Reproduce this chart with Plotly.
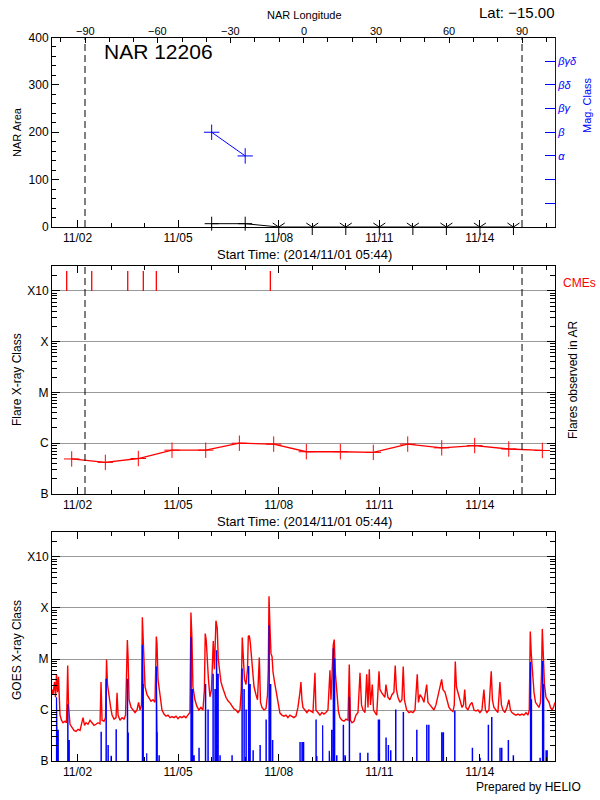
import numpy as np
import pandas as pd
import plotly.graph_objects as go

# ---------------- data ----------------
start_time = '2014-11-01 05:44'
end_time = '2014-11-16 05:44'
limb_times = ['2014-11-02 05:21', '2014-11-15 06:08']   # AR at -90 / +90 longitude
limb_lons = [-90, 90]
latitude_text = 'Lat: \u221215.00'
nar_title = 'NAR 12206'

# NAR area (black) and magnetic class (blue)
nar_dates = ['2014-11-06', '2014-11-07', '2014-11-08', '2014-11-09', '2014-11-10',
             '2014-11-11', '2014-11-12', '2014-11-13', '2014-11-14', '2014-11-15']
nar_area = [7, 7, 0, 0, 0, 0, 0, 0, 0, 0]
mag_dates = ['2014-11-06', '2014-11-07']
mag_class = ['β', 'α']
mag_labels = ['', '', 'α', 'β', 'βγ', 'βδ', 'βγδ']
lon_ticks = [-90, -60, -30, 0, 30, 60, 90]
lon_tick_text = ['\u221290', '\u221260', '\u221230', '0', '30', '60', '90']
area_ticks = [0, 100, 200, 300, 400]

# flares observed in AR
flare_times = ['2014-11-01 19:50', '2014-11-02 19:54', '2014-11-03 19:30', '2014-11-04 19:38',
               '2014-11-05 19:45', '2014-11-06 19:50', '2014-11-07 20:24', '2014-11-08 19:45',
               '2014-11-09 20:06', '2014-11-10 19:42', '2014-11-11 20:20', '2014-11-12 20:40',
               '2014-11-13 20:15', '2014-11-14 20:38', '2014-11-15 20:40']
flare_flux = [4.9e-7, 4.2e-7, 5.0e-7, 7.3e-7, 7.3e-7, 1.0e-6, 9.6e-7, 6.8e-7,
              6.8e-7, 6.6e-7, 9.6e-7, 8.1e-7, 9.0e-7, 7.7e-7, 7.2e-7]
cme_times = ['2014-11-01 16:15', '2014-11-02 10:10', '2014-11-03 11:56',
             '2014-11-03 23:05', '2014-11-04 08:24', '2014-11-07 18:00']

class_vals = [1e-7, 1e-6, 1e-5, 1e-4, 1e-3]
class_text = ['B', 'C', 'M', 'X', 'X10']

# GOES long channel (day of November, log10 flux)
goes_long_day = [
    1.239, 1.269, 1.314, 1.343, 1.373, 1.403, 1.433, 1.478, 1.522, 1.567, 1.627, 1.671, 1.707, 1.731, 1.776, 1.836, 1.895, 1.955,
    2.015, 2.075, 2.119, 2.164, 2.209, 2.253, 2.313, 2.373, 2.432, 2.492, 2.552, 2.611, 2.671, 2.701, 2.731, 2.790, 2.835, 2.865, 2.894, 2.939, 2.984,
    3.030, 3.089, 3.149, 3.179, 3.209, 3.268, 3.328, 3.388, 3.432, 3.486, 3.507, 3.537, 3.596, 3.656, 3.716, 3.775, 3.820, 3.865, 3.909, 3.933, 3.963,
    4.013, 4.072, 4.132, 4.191, 4.251, 4.311, 4.350, 4.370, 4.400, 4.460, 4.519, 4.579, 4.639, 4.698, 4.758, 4.817, 4.877, 4.937, 4.996,
    5.054, 5.113, 5.173, 5.233, 5.292, 5.352, 5.382, 5.412, 5.441, 5.501, 5.561, 5.620, 5.680, 5.740, 5.784, 5.808, 5.838, 5.868, 5.904, 5.949, 5.994,
    6.048, 6.083, 6.128, 6.167, 6.197, 6.233, 6.277, 6.322, 6.367, 6.426, 6.486, 6.546, 6.605, 6.665, 6.725, 6.784, 6.844, 6.883, 6.913, 6.943, 6.979,
    7.024, 7.069, 7.093, 7.123, 7.152, 7.182, 7.218, 7.263, 7.322, 7.367, 7.421, 7.457, 7.501, 7.561, 7.621, 7.665, 7.689, 7.710, 7.740, 7.770, 7.800, 7.829, 7.874, 7.919, 7.979,
    8.036, 8.095, 8.155, 8.215, 8.274, 8.334, 8.394, 8.453, 8.513, 8.573, 8.632, 8.662, 8.692, 8.722, 8.781, 8.841, 8.901, 8.960,
    9.021, 9.080, 9.110, 9.170, 9.229, 9.289, 9.349, 9.408, 9.468, 9.528, 9.558, 9.626, 9.656, 9.692, 9.737, 9.781, 9.826, 9.886, 9.946,
    10.005, 10.066, 10.104, 10.140, 10.185, 10.245, 10.304, 10.364, 10.424, 10.469, 10.513, 10.573, 10.624, 10.662, 10.701, 10.737, 10.791, 10.827, 10.871, 10.922, 10.991,
    11.018, 11.069, 11.107, 11.167, 11.197, 11.256, 11.316, 11.376, 11.435, 11.474, 11.510, 11.555, 11.614, 11.674, 11.713, 11.749, 11.814, 11.883, 11.943,
    12.003, 12.063, 12.131, 12.167, 12.212, 12.271, 12.331, 12.412, 12.450, 12.510, 12.570, 12.629, 12.689, 12.749, 12.808, 12.859, 12.898, 12.957,
    13.018, 13.077, 13.137, 13.197, 13.235, 13.265, 13.301, 13.346, 13.405, 13.465, 13.510, 13.546, 13.584, 13.644, 13.704, 13.763, 13.823, 13.883, 13.942,
    14.000, 14.060, 14.119, 14.164, 14.209, 14.268, 14.337, 14.373, 14.418, 14.477, 14.537, 14.596, 14.641, 14.686, 14.745, 14.805, 14.865, 14.910, 14.954,
    15.015, 15.075, 15.134, 15.194, 15.254, 15.313, 15.373, 15.433, 15.472, 15.501, 15.531, 15.567, 15.612, 15.657, 15.701, 15.761, 15.806, 15.836, 15.860, 15.889, 15.925, 15.970,
    16.015, 16.060, 16.104, 16.149, 16.194, 16.239]
goes_long_log10 = [
    -5.60, -5.70, -5.45, -5.75, -5.30, -5.65, -5.35, -6.10, -6.20, -6.25, -6.22, -6.25, -5.13, -5.90, -6.28, -6.35, -6.40, -6.42,
    -6.38, -6.40, -6.30, -6.15, -6.30, -6.25, -6.28, -6.20, -6.25, -6.30, -6.28, -6.25, -6.27, -5.45, -6.20, -6.22, -6.15, -5.01, -5.50, -5.75, -5.93,
    -6.10, -6.18, -6.15, -5.66, -6.10, -6.20, -6.15, -6.18, -6.10, -4.63, -4.95, -5.80, -5.95, -6.00, -6.05, -6.00, -5.85, -6.00, -5.90, -4.18, -4.70,
    -5.54, -5.70, -5.78, -5.83, -5.80, -5.85, -4.56, -4.70, -5.40, -5.66, -6.00, -6.08, -6.12, -6.10, -6.15, -6.13, -6.15, -6.12, -6.17,
    -6.13, -6.15, -6.12, -6.15, -6.10, -6.05, -4.09, -4.60, -5.54, -5.80, -5.93, -6.00, -5.95, -6.00, -5.60, -4.50, -4.63, -5.10, -5.40, -5.74, -5.60,
    -4.65, -5.20, -4.25, -4.40, -5.00, -5.25, -5.45, -5.55, -5.65, -5.75, -5.82, -5.86, -5.92, -5.98, -6.00, -6.05, -6.00, -5.60, -4.58, -4.95, -5.40,
    -5.50, -5.20, -4.56, -4.54, -4.68, -4.90, -5.25, -5.54, -5.70, -5.80, -4.97, -5.85, -5.95, -6.00, -5.97, -5.70, -5.20, -3.77, -4.40, -4.90, -4.95, -5.25, -5.45, -5.60, -5.86,
    -6.06, -6.10, -6.12, -6.10, -6.15, -6.10, -6.12, -6.15, -6.12, -5.95, -5.66, -5.45, -5.80, -5.95, -6.00, -6.05, -6.00, -6.03,
    -6.05, -5.27, -6.00, -6.05, -6.10, -6.05, -6.08, -6.05, -6.00, -5.22, -5.80, -4.72, -4.62, -5.30, -5.60, -6.03, -6.15, -6.20, -6.22,
    -6.18, -6.20, -5.11, -6.20, -6.25, -6.22, -6.10, -6.05, -5.27, -5.90, -6.00, -6.05, -5.30, -5.95, -5.20, -5.90, -5.50, -6.00, -6.05, -6.10, -5.24,
    -5.60, -5.66, -5.70, -5.75, -5.50, -5.75, -5.80, -5.70, -5.65, -5.13, -5.60, -5.75, -5.85, -5.80, -5.15, -5.80, -6.00, -6.05, -6.03,
    -6.05, -6.00, -5.30, -5.85, -5.70, -5.75, -5.85, -5.50, -5.85, -5.90, -5.95, -6.00, -5.90, -5.70, -5.55, -5.40, -5.60, -5.65,
    -5.80, -5.95, -6.00, -6.03, -5.90, -5.05, -5.55, -5.65, -5.80, -5.95, -5.90, -5.60, -5.95, -6.00, -5.90, -5.85, -6.00, -6.02, -6.00,
    -6.05, -6.00, -5.60, -6.00, -6.05, -6.00, -5.24, -5.80, -5.95, -6.00, -6.05, -5.45, -5.90, -6.00, -6.05, -5.95, -5.80, -6.00, -6.05,
    -6.08, -6.10, -6.08, -6.10, -6.08, -6.10, -6.05, -6.10, -6.00, -4.46, -4.90, -5.25, -5.65, -5.85, -5.90, -5.95, -5.85, -5.30, -4.41, -4.95, -5.50, -5.75,
    -5.80, -5.85, -5.95, -6.00, -5.95, -5.85]

# GOES short channel peaks (day of November, log10 flux); otherwise below the B floor
goes_short_day = [
    1.373, 1.418, 1.707, 1.746, 2.701, 2.850, 2.909, 3.000, 3.149, 3.486, 3.507, 3.933, 3.954, 4.063,
    4.350, 4.370, 4.430, 5.382, 5.426, 5.471, 5.620, 5.814, 5.889, 6.039, 6.098, 6.143, 6.188, 6.247,
    6.605, 6.904, 6.964, 7.024, 7.099, 7.143, 7.233, 7.442, 7.621, 7.710, 7.755, 7.814, 8.632, 8.692,
    8.737, 9.110, 9.131, 9.310, 9.507, 9.578, 9.626, 9.662, 9.727, 9.924, 9.975, 10.104, 10.424, 10.653,
    10.969, 10.999, 11.197, 11.266, 11.337, 11.486, 11.713, 12.114, 12.412, 12.472, 12.859, 12.906,
    13.247, 13.772, 14.000, 14.248, 14.349, 14.596, 14.647, 14.844, 14.993, 15.507, 15.531, 15.791,
    15.866, 15.895, 15.970, 16.000]
goes_short_log10 = [
    -5.75, -6.40, -5.90, -6.60, -6.44, -5.40, -6.70, -6.91, -6.39, -5.40, -6.44, -4.72, -5.50, -6.85,
    -5.14, -6.45, -6.90, -4.58, -5.60, -6.90, -6.75, -5.50, -6.00, -5.30, -5.60, -4.84, -5.30, -6.90,
    -6.90, -5.20, -5.60, -6.00, -5.15, -5.50, -6.80, -6.70, -6.20, -4.35, -5.50, -6.60, -6.64, -6.64,
    -6.64, -6.20, -6.90, -6.30, -6.80, -6.40, -4.80, -5.00, -6.90, -6.30, -6.90, -5.75, -6.85, -6.85,
    -6.20, -6.20, -6.55, -6.70, -6.80, -6.00, -6.05, -6.40, -6.30, -6.30, -6.45, -6.45,
    -6.02, -6.75, -6.95, -6.30, -6.15, -6.75, -6.75, -6.60, -6.90, -5.07, -5.80, -6.95,
    -5.05, -5.50, -6.80, -6.80]

# ---------------- derived ----------------
nov1 = pd.Timestamp('2014-11-01')
def day_to_time(days):
    return [nov1 + pd.Timedelta(days=float(d) - 1.0) for d in days]

t_long = day_to_time(goes_long_day)
f_long = [10 ** v for v in goes_long_log10]

floor = 1e-8
spike_w = pd.Timedelta(minutes=12)
bx, by = [], []
for t, v in zip(day_to_time(goes_short_day), goes_short_log10):
    bx += [t, t, t + spike_w, t + spike_w]
    by += [floor, 10 ** v, 10 ** v, floor]

t0, t1 = pd.Timestamp(limb_times[0]), pd.Timestamp(limb_times[1])
deg_per_s = (limb_lons[1] - limb_lons[0]) / (t1 - t0).total_seconds()
lon_range = [limb_lons[0] + (pd.Timestamp(start_time) - t0).total_seconds() * deg_per_s,
             limb_lons[0] + (pd.Timestamp(end_time) - t0).total_seconds() * deg_per_s]

mag_idx = [mag_labels.index(c) + 1 for c in mag_class]
nar_symbols = ['cross-thin-open' if a > 0 else 'y-down-open' for a in nar_area]

cme_x, cme_y = [], []
for t in cme_times:
    cme_x += [t, t, None]
    cme_y += [1e-3, 2.45e-3, None]

# ---------------- figure ----------------
FONT = 'Liberation Sans'
W, H = 600, 800
def px(y):
    return 1 - y / H

fig = go.Figure()

# limb longitudes on the longitude axis (keeps that axis drawn)
fig.add_trace(go.Scatter(x=limb_lons, y=[200, 200], xaxis='x2', yaxis='y', mode='markers',
                         marker=dict(size=1, opacity=0)))
fig.add_trace(go.Scatter(x=nar_dates, y=nar_area, xaxis='x', yaxis='y', mode='lines+markers',
                         line=dict(color='black', width=1), cliponaxis=False,
                         marker=dict(symbol=nar_symbols, size=10, color='black',
                                     line=dict(color='black', width=1))))
fig.add_trace(go.Scatter(x=mag_dates, y=mag_idx, xaxis='x', yaxis='y2', mode='lines+markers',
                         line=dict(color='blue', width=1),
                         marker=dict(symbol='cross-thin-open', size=11, color='blue',
                                     line=dict(color='blue', width=1))))

fig.add_trace(go.Scatter(x=flare_times, y=flare_flux, xaxis='x3', yaxis='y3', mode='lines+markers',
                         line=dict(color='red', width=1.3),
                         marker=dict(symbol='cross-thin-open', size=11, color='red',
                                     line=dict(color='red', width=1))))
fig.add_trace(go.Scatter(x=cme_x, y=cme_y, xaxis='x3', yaxis='y3', mode='lines',
                         line=dict(color='red', width=1.3)))

fig.add_trace(go.Scatter(x=t_long, y=f_long, xaxis='x4', yaxis='y4', mode='lines',
                         line=dict(color='red', width=1.4)))
fig.add_trace(go.Scatter(x=bx, y=by, xaxis='x4', yaxis='y4', mode='lines',
                         line=dict(color='blue', width=1.2)))

xdom = [52 / W, 555 / W]
date_axis = dict(type='date', range=[start_time, end_time], tickformat='%m/%d',
                 tick0='2014-11-02', dtick=3 * 86400000, ticks='inside', ticklen=7,
                 tickcolor='black', showline=True, linecolor='black', linewidth=1,
                 showgrid=False, zeroline=False, domain=xdom,
                 tickfont=dict(size=12, color='black'),
                 minor=dict(dtick=86400000, ticks='inside', ticklen=4, tickcolor='black'))

minor_log = [k * 10.0 ** e for e in range(-7, -2) for k in range(2, 10)] + [2e-3, 3e-3]
log_axis = dict(type='log', range=[-7, -2.51], tickmode='array', tickvals=class_vals,
                ticktext=class_text, ticks='inside', ticklen=8, tickcolor='black',
                showline=True, linecolor='black', linewidth=1, mirror='ticks',
                showgrid=True, gridcolor='#999999', gridwidth=1, zeroline=False,
                tickfont=dict(size=12, color='black'),
                minor=dict(tickmode='array', tickvals=minor_log, ticks='inside',
                           ticklen=5, tickcolor='black', showgrid=False))

fig.update_layout(
    width=W, height=H, margin=dict(l=0, r=0, t=0, b=0, autoexpand=False),
    paper_bgcolor='white', plot_bgcolor='rgba(0,0,0,0)', showlegend=False,
    font=dict(family=FONT, size=12, color='black'), hovermode=False,
    xaxis=dict(date_axis, anchor='y'),
    xaxis2=dict(domain=xdom, side='top', anchor='free', position=px(37), range=lon_range,
                tickmode='array', tickvals=lon_ticks, showticklabels=False,
                ticks='inside', ticklen=5, tickcolor='black', showline=True,
                linecolor='black', showgrid=False, zeroline=False,
                minor=dict(dtick=10, tick0=0, ticks='inside', ticklen=4, tickcolor='black')),
    xaxis3=dict(date_axis, anchor='y3', mirror='ticks'),
    xaxis4=dict(date_axis, anchor='y4', mirror='ticks'),
    yaxis=dict(domain=[px(227), px(37)], anchor='x', range=[0, 401], tickmode='array',
               tickvals=area_ticks, ticks='inside', ticklen=7, tickcolor='black',
               showline=True, linecolor='black', showgrid=False, zeroline=False,
               tickfont=dict(size=12, color='black'),
               minor=dict(dtick=20, ticks='inside', ticklen=4, tickcolor='black')),
    yaxis2=dict(overlaying='y', side='right', anchor='x', range=[0, 401 / 50],
                tickmode='array', tickvals=list(range(1, len(mag_labels) + 1)),
                ticktext=['<i>%s</i>' % s for s in mag_labels], ticks='inside', ticklen=10,
                tickcolor='blue', showline=True, linecolor='blue', showgrid=False,
                zeroline=False, tickfont=dict(size=11, color='blue')),
    yaxis3=dict(log_axis, domain=[px(494), px(266)], anchor='x3'),
    yaxis4=dict(log_axis, domain=[px(761), px(532)], anchor='x4'),
)

for t in limb_times:
    for xr, yr in (('x', 'y domain'), ('x3', 'y3 domain')):
        fig.add_shape(type='line', xref=xr, yref=yr, x0=t, x1=t, y0=0, y1=1,
                      line=dict(color='black', width=1, dash='7px,4px'))

def note(text, x, y, size=12, color='black', angle=0, xanchor='center'):
    fig.add_annotation(text=text, x=x / W, y=px(y), xref='paper', yref='paper',
                       showarrow=False, font=dict(family=FONT, size=size, color=color),
                       textangle=angle, xanchor=xanchor, yanchor='middle')

note(nar_title, 102, 52, size=21, xanchor='left')
note(latitude_text, 556, 13, size=15, xanchor='right')
note('NAR Longitude', 304, 15, size=11)
note('NAR Area', 17, 132, size=11, angle=-90)
note('Mag. Class', 587, 105, size=11, color='blue', angle=-90)
note('Start Time: (2014/11/01 05:44)', 304, 254, size=13)
note('Start Time: (2014/11/01 05:44)', 304, 521, size=13)
note('Flare X-ray Class', 17, 380, size=12, angle=-90)
note('Flares observed in AR', 573, 380, size=12, angle=-90)
note('CMEs', 561, 283, size=12, color='red', xanchor='left')
note('GOES X-ray Class', 17, 650, size=12, angle=-90)
note('Prepared by HELIO', 583, 787, size=12, xanchor='right')

# longitude tick labels, placed through the longitude axis scale (drawn last, on top)
for lon, txt in zip(lon_ticks, lon_tick_text):
    fig.add_annotation(text=txt, x=lon, xref='x2', y=px(31), yref='paper', showarrow=False,
                       font=dict(family=FONT, size=11, color='black'),
                       xanchor='center', yanchor='middle')

fig.write_html('out.html', config={'displayModeBar': False},
               post_script="document.body.style.margin='0';document.body.style.overflow='hidden';")
